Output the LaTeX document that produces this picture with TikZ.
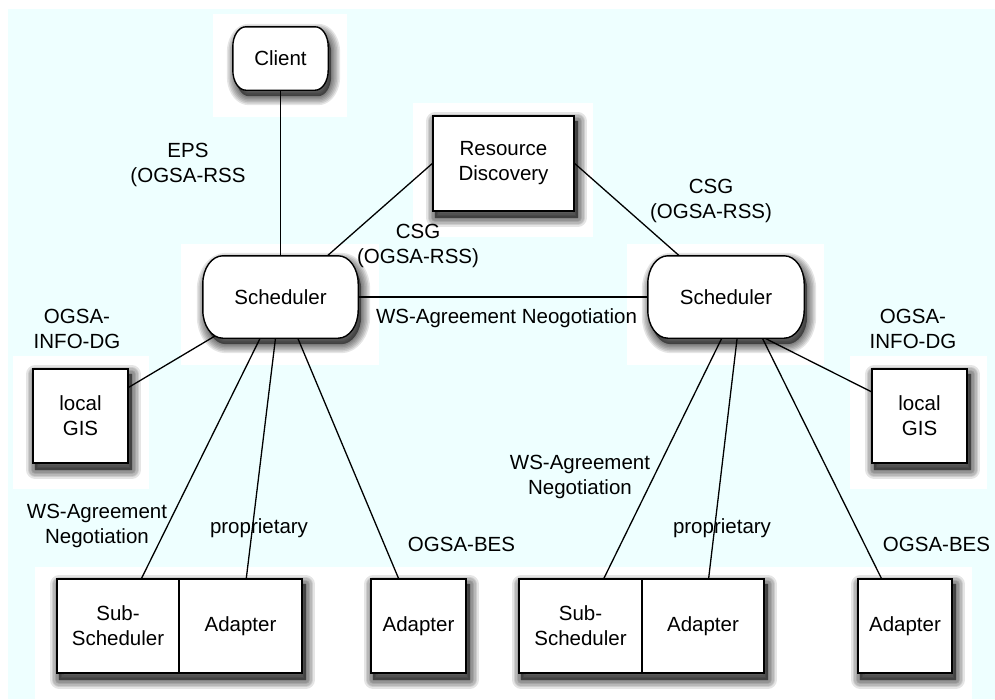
\documentclass[tikz,border=0pt]{standalone}
\usepackage{fontspec}
\setmainfont{Liberation Sans}
\usetikzlibrary{calc}

\definecolor{paper}{RGB}{238,255,255}

\pgfdeclarelayer{backdrop}
\pgfdeclarelayer{shade}
\pgfdeclarelayer{links}
\pgfdeclarelayer{outline}
\pgfsetlayers{backdrop,shade,links,outline,main}

\tikzset{
  txt/.style={inner sep=0pt, align=center, font=\fontsize{20.5}{25}\selectfont},
  box/.style={txt, draw, fill=white, line width=1.4pt},
  oval/.style={txt},
  lbl/.style={txt},
  link/.style={line width=1.3pt},
  patch/.style={fill=white},
  ovalline/.style={draw, fill=white, line width=1.4pt},
  shadowstroke/.style={draw=black, draw opacity=0.1, line width=#1,
                       line join=round, transform canvas={xshift=3pt, yshift=-6pt}},
  shadowcore/.style={fill=black, fill opacity=0.5,
                     transform canvas={xshift=3pt, yshift=-6pt}}
}

% box with elliptical corners around a node: node, x radius, y radius, options
\newcommand\ovalshape[4]{%
  \path[#4] ($(#1.north west)+(#2pt,0)$) -- ($(#1.north east)+(-#2pt,0)$)
    arc[start angle=90, end angle=0, x radius=#2pt, y radius=#3pt]
    -- ($(#1.south east)+(0,#3pt)$)
    arc[start angle=0, end angle=-90, x radius=#2pt, y radius=#3pt]
    -- ($(#1.south west)+(#2pt,0)$)
    arc[start angle=270, end angle=180, x radius=#2pt, y radius=#3pt]
    -- ($(#1.north west)+(0,-#3pt)$)
    arc[start angle=180, end angle=90, x radius=#2pt, y radius=#3pt]
    -- cycle;}

% soft drop shadow of a rectangle given by two corners
\newcommand\boxshadow[2]{%
  \foreach \w in {3,6,9,12,15,18} {\path[shadowstroke=\w pt] (#1) rectangle (#2);}
  \path[shadowcore] (#1) rectangle (#2);}

% soft drop shadow of an elliptical-corner box
\newcommand\ovalshadow[3]{%
  \foreach \w in {3,6,9,12,15,18} {\ovalshape{#1}{#2}{#3}{shadowstroke=\w pt}}
  \ovalshape{#1}{#2}{#3}{shadowcore}}

\begin{document}
\begin{tikzpicture}[x=1pt, y=1pt]
\useasboundingbox (0,0) rectangle (995,-699);

% ---- nodes ----
\node[oval, minimum width=95pt, minimum height=63pt]  (client) at (280.5,-58.5) {Client};
\node[box,  minimum width=141pt, minimum height=95pt] (rd)     at (503.5,-163.5) {Resource\\Discovery};
\node[oval, minimum width=155pt, minimum height=82pt] (schL)   at (280.5,-297) {Scheduler};
\node[oval, minimum width=156pt, minimum height=82pt] (schR)   at (726,-297) {Scheduler};
\node[box,  minimum width=95pt, minimum height=94pt]  (gisL)   at (80.5,-416) {local\\GIS};
\node[box,  minimum width=95pt, minimum height=94pt]  (gisR)   at (919.5,-416) {local\\GIS};
\node[box,  minimum width=122pt, minimum height=94pt] (subL)   at (118,-626) {Sub-\\Scheduler};
\node[box,  minimum width=123pt, minimum height=94pt] (adL)    at (240.5,-626) {Adapter};
\node[box,  minimum width=95pt, minimum height=94pt]  (adxL)   at (418.5,-626) {Adapter};
\node[box,  minimum width=123pt, minimum height=94pt] (subR)   at (580.5,-626) {Sub-\\Scheduler};
\node[box,  minimum width=122pt, minimum height=94pt] (adR)    at (703,-626) {Adapter};
\node[box,  minimum width=94pt, minimum height=94pt]  (adxR)   at (905,-626) {Adapter};

\coordinate (hubR) at ($(schR.center)+(16,0)$);
\coordinate (hubRgis) at ($(schR.center)+(-43,0)$);

% ---- labels ----
\node[lbl] (eps)   at (188,-165)   {EPS\\(OGSA-RSS};
\node[lbl] (csgL)  at (418,-246)   {CSG\\(OGSA-RSS)};
\node[lbl] (csgR)  at (711,-201)   {CSG\\(OGSA-RSS)};
\node[lbl] (wsa)   at (506.5,-318) {WS-Agreement Neogotiation};
\node[lbl] (infoL) at (77,-328.5)  {OGSA-\\INFO-DG};
\node[lbl] (infoR) at (913,-328.5) {OGSA-\\INFO-DG};
\node[lbl] (wsnL)  at (97,-525.5)  {WS-Agreement\\Negotiation};
\node[lbl] (propL) at (259,-528)   {proprietary};
\node[lbl] (besL)  at (461.5,-544) {OGSA-BES};
\node[lbl] (wsnR)  at (580,-477)   {WS-Agreement\\Negotiation};
\node[lbl] (propR) at (722,-528)   {proprietary};
\node[lbl] (besR)  at (936.5,-544) {OGSA-BES};

% ---- backdrop with white patches ----
\begin{pgfonlayer}{backdrop}
  \fill[paper] (8,-9) rectangle (995,-699);
  \fill[patch] (213,-14) rectangle (347,-117);
  \fill[patch] (413,-103) rectangle (593,-237);
  \fill[patch] (181,-244) rectangle (379,-365);
  \fill[patch] (627,-244) rectangle (824,-365);
  \fill[patch] (13,-356) rectangle (149,-489);
  \fill[patch] (850,-356) rectangle (987,-489);
  \fill[patch] (35,-567) rectangle (972,-699);
\end{pgfonlayer}

% ---- shadows ----
\begin{pgfonlayer}{shade}
  \ovalshadow{client}{13}{20}
  \ovalshadow{schL}{20}{28}
  \ovalshadow{schR}{20}{28}
  \boxshadow{rd.north west}{rd.south east}
  \boxshadow{gisL.north west}{gisL.south east}
  \boxshadow{gisR.north west}{gisR.south east}
  \boxshadow{subL.north west}{adL.south east}
  \boxshadow{adxL.north west}{adxL.south east}
  \boxshadow{subR.north west}{adR.south east}
  \boxshadow{adxR.north west}{adxR.south east}
\end{pgfonlayer}

% ---- connectors ----
\begin{pgfonlayer}{links}
  \draw[link] (client.center) -- (schL.center);
  \draw[link] (rd.west) -- (schL.center);
  \draw[link] (rd.east) -- (schR.center);
  \draw[link] (schL.center) -- (schR.center);
  \draw[link] (schL.center) -- (gisL.center);
  \draw[link] (schL.center) -- (subL.center);
  \draw[link] (schL.center) -- (adL.center);
  \draw[link] (schL.center) -- (adxL.center);
  \draw[link] (hubRgis) -- (gisR.center);
  \draw[link] (hubR) -- (subR.center);
  \draw[link] (hubR) -- (adR.center);
  \draw[link] (hubR) -- (adxR.center);
\end{pgfonlayer}

% ---- rounded outlines ----
\begin{pgfonlayer}{outline}
  \ovalshape{client}{13}{20}{ovalline}
  \ovalshape{schL}{20}{28}{ovalline}
  \ovalshape{schR}{20}{28}{ovalline}
\end{pgfonlayer}
\end{tikzpicture}
\end{document}
